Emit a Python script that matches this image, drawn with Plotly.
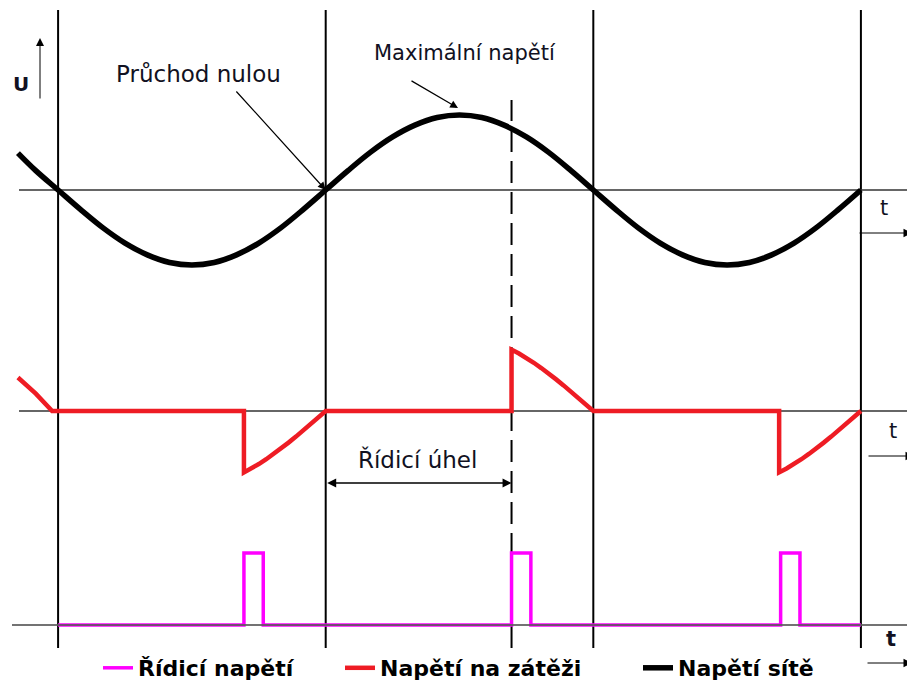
import plotly.graph_objects as go

# ---------------- data ----------------
# Mains voltage (Napětí sítě), angle in degrees, voltage in V
mains_deg = [-207, -195, -180, -165, -150, -135, -120, -105, -90, -75, -60, -45, -30, -15,
             0, 15, 30, 45, 60, 75, 90, 105, 120, 135, 150, 165,
             180, 195, 210, 225, 240, 255, 270, 285, 300, 315, 330, 345, 360]
mains_v = [160, 84, 0, -84, -163, -230, -281, -314, -325, -314, -281, -230, -163, -84,
           0, 84, 163, 230, 281, 314, 325, 314, 281, 230, 163, 84,
           0, -84, -163, -230, -281, -314, -325, -314, -281, -230, -163, -84, 0]

# Load voltage (Napětí na zátěži)
load_deg = [-207, -195, -184,
            -55, -55, -50, -45, -40, -35, -30, -25, -20, -15, -10, -5, 0,
            125, 125, 130, 135, 140, 145, 150, 155, 160, 165, 170, 175, 180,
            305, 305, 310, 315, 320, 325, 330, 335, 340, 345, 350, 355, 360]
load_v = [145, 75, 0,
          0, -266, -249, -230, -209, -186, -163, -137, -111, -84, -56, -28, 0,
          0, 266, 249, 230, 209, 186, 163, 137, 111, 84, 56, 28, 0,
          0, -266, -249, -230, -209, -186, -163, -137, -111, -84, -56, -28, 0]

# Control (gate) voltage (Řídicí napětí)
ctrl_deg = [-180, -55, -55, -42, -42, 125, 125, 138, 138, 306, 306, 319, 319, 360]
ctrl_v = [0, 0, 5, 5, 0, 0, 5, 5, 0, 0, 5, 5, 0, 0]

zero_crossings = [-180, 0, 180, 360]
firing_angle = 125

series_names = ["Řídicí napětí", "Napětí na zátěži", "Napětí sítě"]

# ---------------- layout helpers (pixel geometry) ----------------
W, H = 915, 686
OFF = 8              # page body margin
PX0 = 325.7          # page pixel of 0 degrees
PPD = 1.4867         # pixels per degree


def deg(px):
    return (px - PX0) / PPD


# rows (page pixels): (top, bottom, baseline, pixels per unit)
rows = {
    "y": (OFF, 300, 190, 75 / 325),
    "y2": (300, 520, 411, 75 / 325),
    "y3": (520, H + OFF, 625, 72 / 5),
}


def val(axis, py):
    top, bot, base, ppu = rows[axis]
    return (base - py) / ppu


def pfrac(py):
    return 1 - (py - OFF) / H


def yaxis_def(axis):
    top, bot, base, ppu = rows[axis]
    return dict(domain=[max(0, pfrac(bot)), min(1, pfrac(top))],
                range=[-(bot - base) / ppu, (base - top) / ppu],
                visible=False, fixedrange=True, anchor="x")


TXT = "#111122"
FONT = "DejaVu Sans"
BOLD = "DejaVu Sans"

fig = go.Figure()

fig.add_trace(go.Scatter(x=ctrl_deg, y=ctrl_v, xaxis="x", yaxis="y3", mode="lines",
                         name=series_names[0], legend="legend",
                         line=dict(color="#ff00ff", width=3.5)))
fig.add_trace(go.Scatter(x=load_deg, y=load_v, xaxis="x", yaxis="y2", mode="lines",
                         name=series_names[1], legend="legend2",
                         line=dict(color="#ee1c24", width=4.5)))
fig.add_trace(go.Scatter(x=mains_deg, y=mains_v, xaxis="x", yaxis="y", mode="lines",
                         name=series_names[2], legend="legend3",
                         line=dict(color="black", width=5.5, shape="spline")))

shapes = []
# time axes
shapes.append(dict(type="line", xref="x", yref="y", x0=deg(19), x1=deg(907), y0=0, y1=0,
                   line=dict(color="#333333", width=1.3), layer="below"))
shapes.append(dict(type="line", xref="x", yref="y2", x0=deg(19), x1=deg(907), y0=0, y1=0,
                   line=dict(color="#333333", width=1.3), layer="below"))
shapes.append(dict(type="line", xref="x", yref="y3", x0=deg(12), x1=deg(915), y0=0, y1=0,
                   line=dict(color="rgba(90,90,90,0.85)", width=2), layer="above"))
# zero-crossing verticals
for zc in zero_crossings:
    shapes.append(dict(type="line", xref="x", yref="paper", x0=zc, x1=zc,
                       y0=pfrac(648), y1=pfrac(10),
                       line=dict(color="black", width=2), layer="below"))
# firing-angle dashed line
shapes.append(dict(type="line", xref="x", yref="paper", x0=firing_angle, x1=firing_angle,
                   y0=pfrac(648), y1=pfrac(100),
                   line=dict(color="black", width=2, dash="22px,9px"), layer="below"))

ann = []
ann.append(dict(xref="x", yref="y", x=deg(21), y=val("y", 84), text="<b>U</b>", showarrow=False,
                font=dict(family=FONT, size=20, color=TXT)))
ann.append(dict(xref="x", yref="y", x=deg(40), y=val("y", 38), ax=deg(40), ay=val("y", 100),
                axref="x", ayref="y", text="", showarrow=True, arrowhead=2, arrowsize=1.6,
                arrowwidth=1, arrowcolor="black"))
ann.append(dict(xref="x", yref="y", x=deg(198), y=val("y", 74), text="Průchod nulou",
                showarrow=False, font=dict(family=FONT, size=23, color=TXT)))
ann.append(dict(xref="x", yref="y", x=0, y=0, ax=deg(235), ay=val("y", 90),
                axref="x", ayref="y", text="", showarrow=True, arrowhead=2, arrowsize=1.3,
                arrowwidth=1.2, arrowcolor="black"))
ann.append(dict(xref="x", yref="y", x=deg(465), y=val("y", 53), text="Maximální napětí",
                showarrow=False, font=dict(family=FONT, size=21, color=TXT)))
ann.append(dict(xref="x", yref="y", x=deg(458), y=val("y", 108), ax=deg(410), ay=val("y", 80),
                axref="x", ayref="y", text="", showarrow=True, arrowhead=2, arrowsize=1.3,
                arrowwidth=1.2, arrowcolor="black"))
ann.append(dict(xref="x", yref="y2", x=deg(417), y=val("y2", 460), text="Řídicí úhel",
                showarrow=False, font=dict(family=FONT, size=23, color=TXT)))
ann.append(dict(xref="x", yref="y2", x=firing_angle, y=val("y2", 483), ax=0, ay=val("y2", 483),
                axref="x", ayref="y2", text="", showarrow=True, arrowhead=2, startarrowhead=2,
                arrowside="end+start", arrowsize=1.2, startarrowsize=1.2,
                arrowwidth=1.5, arrowcolor="black"))
# t labels and arrows
for axis, tx, ty, ax0, ax1, ay_, bold in [("y", 884, 208, 858, 912, 233, False),
                                          ("y2", 893, 431, 867, 914, 456, False),
                                          ("y3", 891, 639, 866, 912, 663, True)]:
    ann.append(dict(xref="x", yref=axis, x=deg(tx), y=val(axis, ty),
                    text="<b>t</b>" if bold else "t", showarrow=False,
                    font=dict(family=FONT, size=21, color=TXT)))
    ann.append(dict(xref="x", yref=axis, x=deg(ax1), y=val(axis, ay_), ax=deg(ax0),
                    ay=val(axis, ay_), axref="x", ayref=axis, text="", showarrow=True,
                    arrowhead=2, arrowsize=1.7, arrowwidth=1, arrowcolor="black"))

legend_common = dict(orientation="h", yanchor="middle", y=pfrac(668), xanchor="left",
                     bgcolor="rgba(0,0,0,0)", borderwidth=0,
                     font=dict(family=BOLD, size=22, color="black", weight="bold"))

fig.update_layout(
    width=W, height=H,
    margin=dict(l=0, r=0, t=0, b=0),
    paper_bgcolor="white", plot_bgcolor="white",
    xaxis=dict(range=[deg(OFF), deg(W + OFF)], visible=False, fixedrange=True, anchor="y3"),
    yaxis=yaxis_def("y"), yaxis2=yaxis_def("y2"), yaxis3=yaxis_def("y3"),
    shapes=shapes, annotations=ann,
    legend=dict(x=(138 - 40 - OFF) / W, **legend_common),
    legend2=dict(x=(380 - 40 - OFF) / W, **legend_common),
    legend3=dict(x=(678 - 40 - OFF) / W, **legend_common),
    showlegend=True,
)

fig.write_html("out.html")
